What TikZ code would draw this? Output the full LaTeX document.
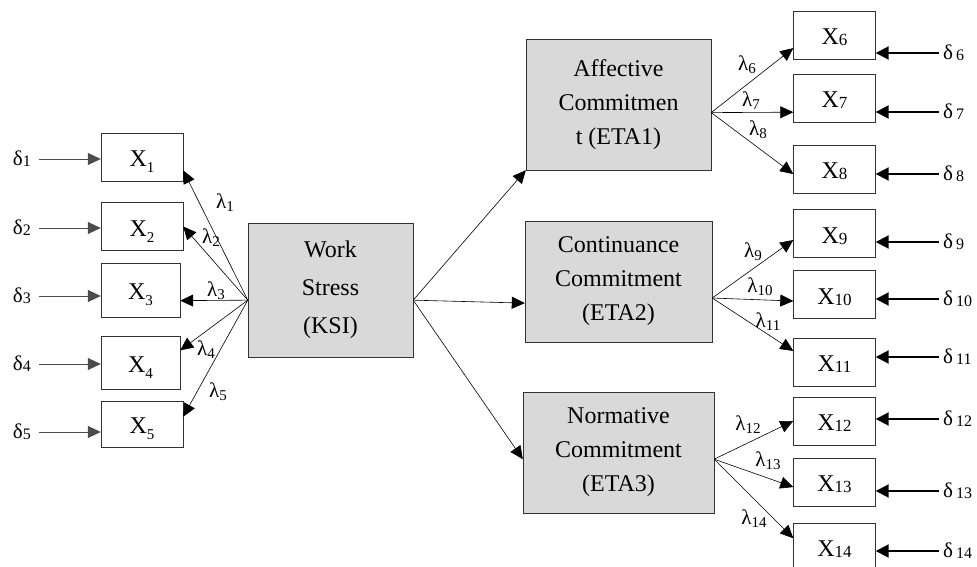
\documentclass[tikz,border=0pt]{standalone}
\usepackage{fontspec}
\setmainfont{Liberation Serif}
\usetikzlibrary{arrows.meta}
\usetikzlibrary{positioning}
\usetikzlibrary{calc}

% subscripted symbols
\newcommand{\lsub}[2]{#1\raisebox{-6pt}{\fontsize{15}{15}\selectfont #2}}
\newcommand{\rsub}[2]{#1\raisebox{-1pt}{\fontsize{17}{17}\selectfont #2}}
\newcommand{\lam}[1]{λ\raisebox{-3pt}{\fontsize{15}{15}\selectfont #1}}
\newcommand{\ldel}[1]{δ\raisebox{-1pt}{\fontsize{16}{16}\selectfont #1}}
\newcommand{\rdel}[1]{δ\hspace{3pt}\raisebox{-1pt}{\fontsize{16}{16}\selectfont #1}}

\begin{document}
\begin{tikzpicture}[x=1pt, y=-1pt,
				indicator/.style={draw=black!80, rectangle, minimum width=82pt, minimum height=48pt, inner sep=0pt, text height=19pt, text depth=0pt, font=\fontsize{24}{28}\selectfont},
				latent/.style={draw=black!80, fill=black!15, rectangle, inner sep=0pt, align=center, font=\fontsize{24}{34}\selectfont},
				load/.style={draw, -{Triangle[length=13pt,width=12pt]}, line width=0.6pt},
				errleft/.style={draw, black!70, -{Triangle[length=13pt,width=12pt]}, line width=0.7pt, shorten <=7pt},
				errright/.style={draw, -{Triangle[length=13pt,width=13pt]}, line width=2pt, shorten <=3pt},
				lbl/.style={font=\fontsize{21}{21}\selectfont, inner sep=1pt}]
				\useasboundingbox (0,0) rectangle (977,567);
				\clip (0,0) rectangle (977,567);
				
				% latent variables
				\node[latent, minimum width=165pt, minimum height=134pt, font=\fontsize{24}{38}\selectfont](ksi) at (330.5,290) {Work\\Stress\\(KSI)};
				\node[latent, minimum width=185pt, minimum height=131pt](aff) at (618.5,104.5) {Affective\\Commitmen\\t (ETA1)};
				\node[latent, minimum width=187pt, minimum height=121pt](cont) at (618.5,281.5) {Continuance\\Commitment\\(ETA2)};
				\node[latent, minimum width=191pt, minimum height=121pt](norm) at (618.5,452.5) {Normative\\Commitment\\(ETA3)};
				
				% indicators of KSI
				\node[indicator](x1) at (142,157) {\lsub{X}{1}};
				\node[indicator](x2) at (142,226.5) {\lsub{X}{2}};
				\node[indicator, minimum width=79pt, minimum height=54pt](x3) at (140.5,290) {\lsub{X}{3}};
				\node[indicator, minimum width=79pt, minimum height=53pt](x4) at (140.5,362.5) {\lsub{X}{4}};
				\node[indicator, minimum height=46pt](x5) at (142,424) {\lsub{X}{5}};
				
				% indicators of ETA
				\node[indicator](x6) at (834.5,35.5) {\rsub{X}{6}};
				\node[indicator](x7) at (834.5,98) {\rsub{X}{7}};
				\node[indicator](x8) at (834.5,169) {\rsub{X}{8}};
				\node[indicator](x9) at (834.5,233.5) {\rsub{X}{9}};
				\node[indicator](x10) at (834.5,294.5) {\rsub{X}{10}};
				\node[indicator](x11) at (834.5,362) {\rsub{X}{11}};
				\node[indicator](x12) at (834.5,421) {\rsub{X}{12}};
				\node[indicator](x13) at (834.5,482) {\rsub{X}{13}};
				\node[indicator](x14) at (834.5,547) {\rsub{X}{14}};
				
				% error terms
				\node[lbl, anchor=east](d1) at (32,159) {\ldel{1}};
				\node[lbl, anchor=east](d2) at (32,228) {\ldel{2}};
				\node[lbl, anchor=east](d3) at (32,296) {\ldel{3}};
				\node[lbl, anchor=east](d4) at (32,364) {\ldel{4}};
				\node[lbl, anchor=east](d5) at (32,432) {\ldel{5}};
				\node[lbl, anchor=west](d6) at (942,53) {\rdel{6}};
				\node[lbl, anchor=west](d7) at (942,112) {\rdel{7}};
				\node[lbl, anchor=west](d8) at (942,174) {\rdel{8}};
				\node[lbl, anchor=west](d9) at (942,242) {\rdel{9}};
				\node[lbl, anchor=west](d10) at (942,299) {\rdel{10}};
				\node[lbl, anchor=west](d11) at (942,357) {\rdel{11}};
				\node[lbl, anchor=west](d12) at (942,419) {\rdel{12}};
				\node[lbl, anchor=west](d13) at (942,491) {\rdel{13}};
				\node[lbl, anchor=west](d14) at (942,551) {\rdel{14}};
				
				\draw[errleft] (d1.east) -- (d1.east -| x1.west);
				\draw[errleft] (d2.east) -- (d2.east -| x2.west);
				\draw[errleft] (d3.east) -- (d3.east -| x3.west);
				\draw[errleft] (d4.east) -- (d4.east -| x4.west);
				\draw[errleft] (d5.east) -- (d5.east -| x5.west);
				\draw[errright] (d6.west) -- (d6.west -| x6.east);
				\draw[errright] (d7.west) -- (d7.west -| x7.east);
				\draw[errright] (d8.west) -- (d8.west -| x8.east);
				\draw[errright] (d9.west) -- (d9.west -| x9.east);
				\draw[errright] (d10.west) -- (d10.west -| x10.east);
				\draw[errright] (d11.west) -- (d11.west -| x11.east);
				\draw[errright] (d12.west) -- (d12.west -| x12.east);
				\draw[errright] (d13.west) -- (d13.west -| x13.east);
				\draw[errright] (d14.west) -- (d14.west -| x14.east);
				
				% loadings
				\draw[load] (ksi.187) -- (x1.-18);
				\draw[load] (ksi.187) -- (x2.east);
				\draw[load] (ksi.187) -- (x3.-15);
				\draw[load] (ksi.187) -- (x4.17);
				\draw[load] (ksi.187) -- (x5.10);
				\draw[load] (aff.-5) -- (x6.197);
				\draw[load] (aff.-5) -- (x7.199);
				\draw[load] (aff.-5) -- (x8.187);
				\draw[load] (cont.-10) -- (x9.189);
				\draw[load] (cont.-10) -- (x10.189);
				\draw[load] (cont.-10) -- (x11.165);
				\draw[load] (norm.-4) -- (x12.west);
				\draw[load] (norm.-4) -- (x13.187);
				\draw[load] (norm.-4) -- (x14.168);
				
				% structural paths
				\draw[load] (ksi.-7) -- (aff.south west);
				\draw[load] (ksi.-7) -- (cont.193);
				\draw[load] (ksi.-7) -- (norm.184);
				
				% loading labels
				\node[lbl](l1) at (225,203) {\lam{1}};
				\node[lbl](l2) at (211,238) {\lam{2}};
				\node[lbl](l3) at (216,291) {\lam{3}};
				\node[lbl](l4) at (206,350) {\lam{4}};
				\node[lbl](l5) at (218,392) {\lam{5}};
				\node[lbl](l6) at (747,65) {\lam{6}};
				\node[lbl](l7) at (751,101) {\lam{7}};
				\node[lbl](l8) at (758,130) {\lam{8}};
				\node[lbl](l9) at (753,252) {\lam{9}};
				\node[lbl](l10) at (760,287) {\lam{10}};
				\node[lbl](l11) at (768,322) {\lam{11}};
				\node[lbl](l12) at (748,425) {\lam{12}};
				\node[lbl](l13) at (768,461) {\lam{13}};
				\node[lbl](l14) at (754,519) {\lam{14}};
			\end{tikzpicture}
\end{document}
